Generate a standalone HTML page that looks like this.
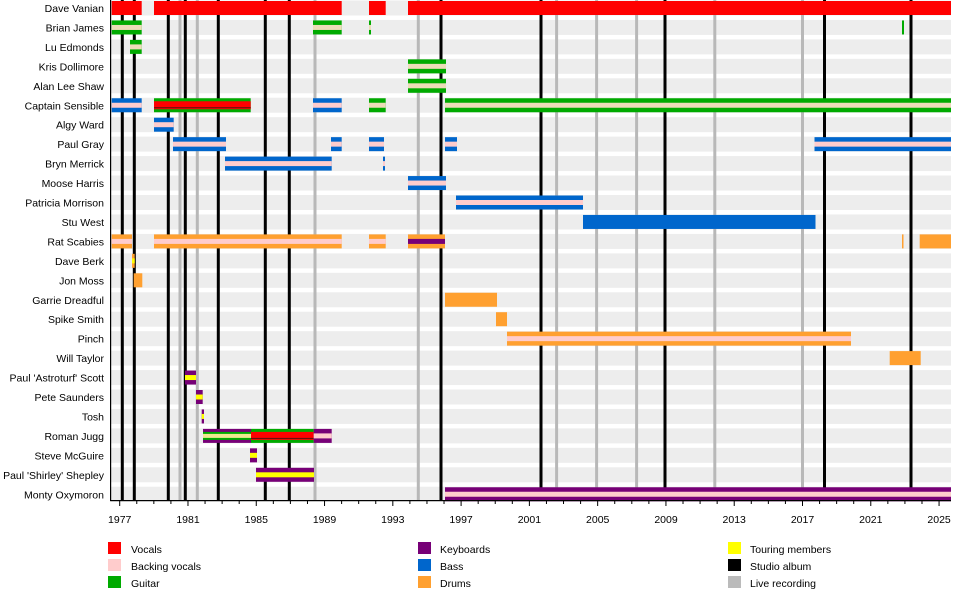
<!DOCTYPE html>
<html><head><meta charset="utf-8"><style>
html,body{margin:0;padding:0;background:#fff;width:960px;height:600px;overflow:hidden}
svg{display:block;font-family:"Liberation Sans",Arial,sans-serif}
</style></head><body>
<svg id="s" width="960" height="600" xmlns="http://www.w3.org/2000/svg">
<g id="bands"></g><g id="vl"></g><g id="bars"></g>
<g font-size="10.5" fill="#000" text-anchor="end">
<text x="104" y="12">Dave Vanian</text>
<text x="104" y="31.5">Brian James</text>
<text x="104" y="51">Lu Edmonds</text>
<text x="104" y="70.4">Kris Dollimore</text>
<text x="104" y="89.8">Alan Lee Shaw</text>
<text x="104" y="109.3">Captain Sensible</text>
<text x="104" y="128.7">Algy Ward</text>
<text x="104" y="148.2">Paul Gray</text>
<text x="104" y="167.6">Bryn Merrick</text>
<text x="104" y="187">Moose Harris</text>
<text x="104" y="206.5">Patricia Morrison</text>
<text x="104" y="226">Stu West</text>
<text x="104" y="245.4">Rat Scabies</text>
<text x="104" y="264.9">Dave Berk</text>
<text x="104" y="284.3">Jon Moss</text>
<text x="104" y="303.8">Garrie Dreadful</text>
<text x="104" y="323.2">Spike Smith</text>
<text x="104" y="342.7">Pinch</text>
<text x="104" y="362.1">Will Taylor</text>
<text x="104" y="381.6">Paul 'Astroturf' Scott</text>
<text x="104" y="401">Pete Saunders</text>
<text x="104" y="420.5">Tosh</text>
<text x="104" y="439.9">Roman Jugg</text>
<text x="104" y="459.4">Steve McGuire</text>
<text x="104" y="478.8">Paul 'Shirley' Shepley</text>
<text x="104" y="498.3">Monty Oxymoron</text>
</g>
<g id="axis"></g>
<g font-size="10.5" fill="#000" text-anchor="middle">
<text x="119.7" y="523">1977</text><text x="188" y="523">1981</text><text x="256.3" y="523">1985</text>
<text x="324.5" y="523">1989</text><text x="392.8" y="523">1993</text><text x="461.1" y="523">1997</text>
<text x="529.4" y="523">2001</text><text x="597.7" y="523">2005</text><text x="666" y="523">2009</text>
<text x="734.2" y="523">2013</text><text x="802.5" y="523">2017</text><text x="870.8" y="523">2021</text>
<text x="939.1" y="523">2025</text>
</g>
<g font-size="10.5" fill="#000">
<rect x="108" y="542" width="13" height="12" fill="#ff0000"/><text x="131" y="553">Vocals</text>
<rect x="108" y="559" width="13" height="12" fill="#ffcccc"/><text x="131" y="570">Backing vocals</text>
<rect x="108" y="576" width="13" height="12" fill="#00aa00"/><text x="131" y="587">Guitar</text>
<rect x="418" y="542" width="13" height="12" fill="#770077"/><text x="440" y="553">Keyboards</text>
<rect x="418" y="559" width="13" height="12" fill="#0066cc"/><text x="440" y="570">Bass</text>
<rect x="418" y="576" width="13" height="12" fill="#ffa030"/><text x="440" y="587">Drums</text>
<rect x="728" y="542" width="13" height="12" fill="#ffff00"/><text x="750" y="553">Touring members</text>
<rect x="728" y="559" width="13" height="12" fill="#000000"/><text x="750" y="570">Studio album</text>
<rect x="728" y="576" width="13" height="12" fill="#bbbbbb"/><text x="750" y="587">Live recording</text>
</g>
</svg>
<script>
var NS="http://www.w3.org/2000/svg";
function R(g,x,y,w,h,c){var r=document.createElementNS(NS,"rect");r.setAttribute("x",x);r.setAttribute("y",y);r.setAttribute("width",w);r.setAttribute("height",h);r.setAttribute("fill",c);document.getElementById(g).appendChild(r);}
function cy(i){return 8+19.45*i;}
for(var i=0;i<26;i++)R("bands",111,cy(i)-7.5,840,15,"#ededed");
[180,197.3,315,418.3,556.6,596.6,636.6,714.8,802.5].forEach(function(x){R("vl",x-1.5,0,3,500,"#b8b8b8");});
[122.3,134.3,168.3,185.3,218.3,265.3,289.3,441,541,665,824.5,911].forEach(function(x){R("vl",x-1.5,0,3,500,"#000");});
var Rd="#ff0000",G="#00aa00",B="#0066cc",O="#ffa030",K="#770077",Y="#ffff00",P="#ffcccc",C="#ecdcb8";
var bars=[
[0,111.7,141.7,Rd],[0,154,341.7,Rd],[0,369,385.7,Rd],[0,408,951,Rd],
[1,111.7,141.7,G,C],[1,313,341.7,G,C],[1,369,371,G,C],[1,902,904,G],
[2,130,141.7,G,C],[3,408,446,G,C],[4,408,446,G,C],
[5,111.7,141.7,B,P],[5,154,250.7,G,Rd,1],[5,313,341.7,B,P],[5,369,385.7,G,C],[5,445,951,G,C],
[6,154,173.7,B,P],
[7,173,226,B,P],[7,331,341.7,B,P],[7,369,384,B,P],[7,445,457,B,P],[7,814.5,951,B,P],
[8,225,331.7,B,P],[8,383,385,B,P],[9,408,446,B,P],[10,456,583,B,P],[11,583,815.5,B],
[12,111.7,132,O,P],[12,154,341.7,O,P],[12,369,385.7,O,P],[12,408,445,O,K],[12,902,903.5,O],[12,919.7,951,O],
[13,132,134.7,O,Y],[14,133.7,142.3,O],[15,445,497,O],[16,496,507,O],[17,507,851,O,P],[18,889.7,920.7,O],
[19,185,196,K,Y],[20,196,202.7,K,Y],[21,201.7,204,K,Y],
[22,203,251,K,G,2],[22,251,313.7,G,Rd,1],[22,313.7,331.7,K,P],
[23,250,257,K,Y],[24,256,314,K,Y],[25,445,951,K,P]
];
bars.forEach(function(b){var y=cy(b[0])-7,w=b[2]-b[1];R("bars",b[1],y,w,14,b[3]);
 if(b[4]){if(b[5]==1){R("bars",b[1],y+3,w,8,b[4]);R("bars",b[1],y+9,w,1,"#551111");}
 else if(b[5]==2){R("bars",b[1],y+3,w,8,b[4]);R("bars",b[1],y+5,w,4,"#f0e890");}
 else R("bars",b[1],y+4.5,w,5,b[4]);}});
R("axis",110,0,1.2,501,"#000");R("axis",110,500,841,1.2,"#000");
for(var yr=0;yr<=48;yr++){var x=119.7+yr*17.07;R("axis",x-0.5,501,1,yr%4==0?5:3,"#000");}
</script>
</body></html>
